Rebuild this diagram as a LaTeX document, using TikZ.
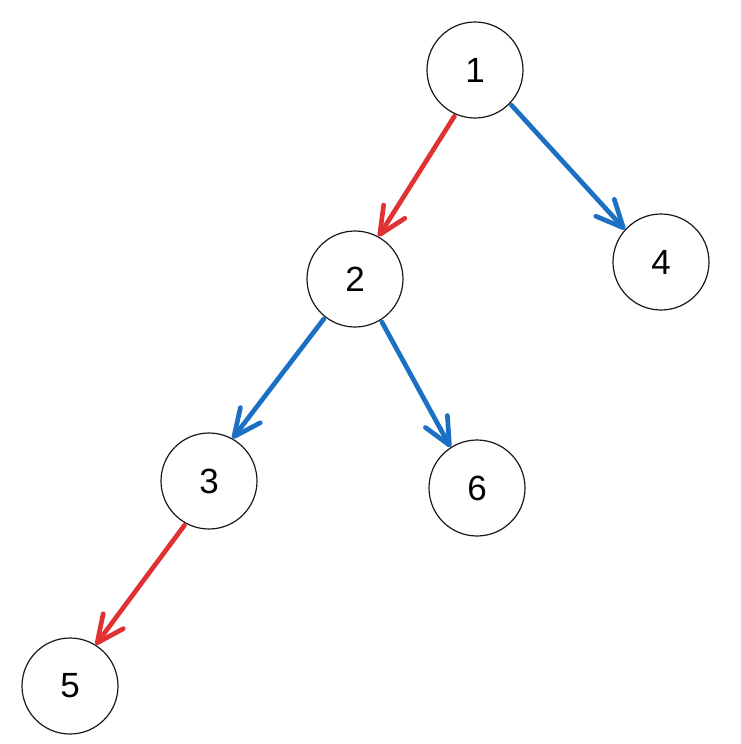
\documentclass[tikz,border=0pt]{standalone}
\usepackage{fontspec}
\setmainfont{Liberation Sans}
\usetikzlibrary{arrows.meta}
\definecolor{redE}{HTML}{E03232}
\definecolor{blueE}{HTML}{1B70C3}
\tikzset{
  treenode/.style={circle, draw=black!90, line width=1.2pt, minimum size=96pt, inner sep=0pt, outer sep=0.6pt, font=\fontsize{35}{42}\selectfont},
  edgebase/.style={line width=4.7pt, line cap=round, -{Straight Barb[length=27pt, width=25pt, line cap=round, line join=round]}},
  rededge/.style={edgebase, draw=redE},
  blueedge/.style={edgebase, draw=blueE}
}
\begin{document}
\begin{tikzpicture}[x=1pt, y=-1pt]
\useasboundingbox[fill=white] (0,0) rectangle (741,744);
\node[treenode] (n1) at (475,70) {1};
\node[treenode] (n2) at (355,279) {2};
\node[treenode] (n4) at (661,262) {4};
\node[treenode] (n3) at (209,481) {3};
\node[treenode] (n6) at (477,488) {6};
\node[treenode] (n5) at (70,686) {5};
\draw[rededge] ([shift={(246.5:2pt)}]n1.246.5) -- (n2.61);
\draw[blueedge] ([shift={(316.6:2pt)}]n1.316.6) -- (n4.138);
\draw[blueedge] ([shift={(232.7:2pt)}]n2.232.7) -- (n3.61);
\draw[blueedge] ([shift={(302:2pt)}]n2.302) -- (n6.123);
\draw[rededge] ([shift={(241:2pt)}]n3.241) -- (n5.58.5);
\end{tikzpicture}
\end{document}
